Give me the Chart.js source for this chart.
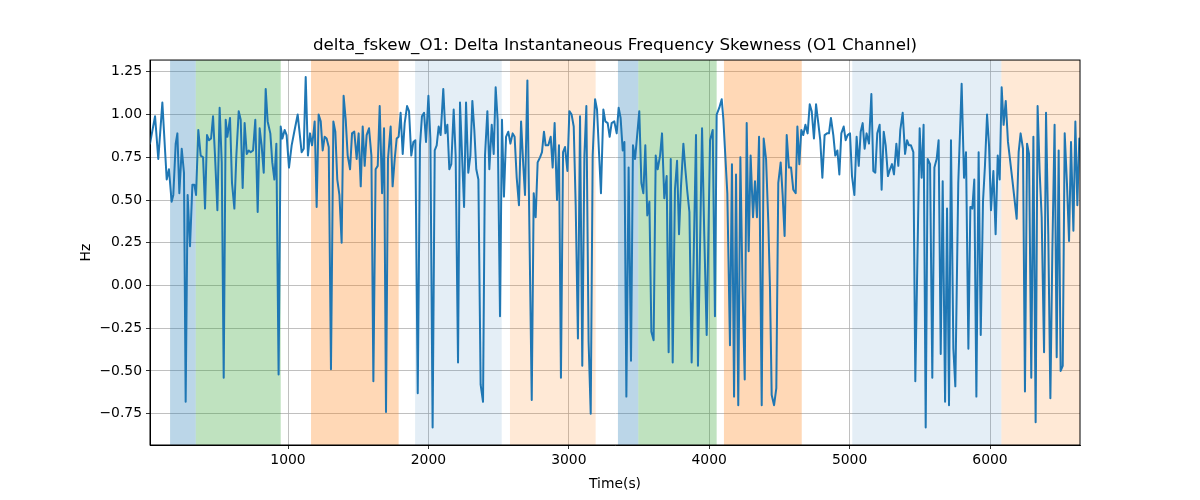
<!DOCTYPE html>
<html>
<head>
<meta charset="utf-8">
<script src="https://cdn.jsdelivr.net/npm/chart.js@4/dist/chart.umd.min.js"></script>
<style>
html, body { margin: 0; padding: 0; background: #fff; }
</style>
</head>
<body>
<canvas id="fskewChart" width="1200" height="500"></canvas>
<script>
// sample times (s) and skewness values (Hz)
const times = [
  17, 53, 76, 105, 136, 152, 171, 183, 200, 212, 226, 243, 259, 271, 285, 302, 319, 333, 345, 361,
  378, 395, 409, 423, 437, 452, 466, 480, 497, 513, 528, 542, 556, 568, 587, 601, 618, 632, 649, 663,
  677, 691, 706, 720, 734, 751, 767, 784, 798, 812, 827, 841, 855, 874, 888, 903, 917, 933, 948, 960,
  976, 990, 1007, 1026, 1047, 1069, 1097, 1112,
  1126, 1142, 1157, 1171, 1180, 1190, 1204, 1218, 1233, 1247, 1261, 1275, 1290, 1306, 1323, 1337, 1351, 1366, 1382, 1396,
  1411, 1425, 1442, 1456, 1472, 1489, 1503, 1518, 1532, 1546, 1560, 1577, 1594, 1608, 1624, 1639, 1653, 1670, 1684, 1698,
  1712, 1731, 1745, 1760, 1774, 1788, 1802, 1817, 1831, 1848, 1862, 1878, 1893, 1907, 1924, 1940, 1954, 1969, 1983, 2000,
  2014, 2030, 2045, 2059, 2073, 2087, 2106, 2121, 2135, 2149, 2163, 2180, 2194, 2211, 2225,
  2254, 2268, 2284, 2299, 2313, 2327, 2341, 2356, 2372, 2389, 2403, 2420, 2434, 2451, 2465, 2479, 2493, 2510, 2524, 2538,
  2553, 2569, 2584, 2600, 2614, 2629, 2645, 2660, 2676, 2688, 2705, 2736, 2750, 2764, 2778, 2795, 2809, 2823, 2835, 2854,
  2871, 2885, 2899, 2916, 2930, 2944, 2959, 2973, 2990, 3004, 3020, 3035, 3049, 3065, 3080, 3096, 3111, 3125, 3141, 3156,
  3170, 3187, 3201, 3215, 3229, 3246, 3260, 3277, 3291, 3305, 3324,
  3341, 3355, 3369, 3384, 3396, 3410, 3426, 3443, 3457, 3472, 3488, 3502, 3517, 3531, 3545, 3559, 3574, 3588, 3604, 3619,
  3633, 3650, 3664, 3680, 3697, 3711, 3726, 3740, 3756, 3771, 3785, 3799, 3816, 3830, 3844, 3859, 3875, 3906, 3920, 3949,
  3965, 3982, 4006, 4025, 4041, 4053, 4072, 4089, 4101, 4129, 4148, 4162, 4177, 4191, 4207, 4222, 4238, 4253, 4267, 4281,
  4295, 4312, 4326, 4340, 4355, 4374, 4388, 4405, 4421, 4433,
  4445, 4462, 4478, 4492, 4509, 4523, 4537, 4552, 4568, 4583, 4599, 4616, 4628, 4642, 4656, 4670, 4685, 4701, 4716, 4730,
  4746, 4761, 4777, 4791, 4806, 4822, 4839, 4853, 4867, 4884, 4898, 4913, 4927, 4941, 4958, 4972, 4986, 5003, 5017, 5034,
  5050, 5065, 5079, 5093, 5107, 5121, 5138, 5155, 5169, 5183, 5197, 5214, 5228, 5243, 5257, 5273, 5288, 5302, 5316, 5333,
  5347, 5361, 5378, 5395, 5409, 5423, 5437, 5454, 5468, 5499, 5513, 5527,
  5542, 5556, 5573, 5589, 5604, 5620, 5634, 5649, 5663, 5680, 5694, 5708, 5722, 5739, 5753, 5774, 5798, 5815, 5829, 5846,
  5860, 5874, 5888, 5903, 5919, 5934, 5950, 5964, 5979, 5993, 6007, 6024, 6040, 6055, 6069, 6083, 6097, 6112, 6128, 6159,
  6190, 6204, 6218, 6235, 6249, 6264, 6278, 6294, 6309, 6325, 6339, 6354, 6368, 6385, 6399, 6415, 6430, 6444, 6460, 6475,
  6489, 6503, 6518, 6532, 6548, 6563, 6577, 6594, 6608, 6622, 6636
];
const values = [
  0.83, 0.99, 0.74, 1.07, 0.62, 0.68, 0.49, 0.53, 0.83, 0.89, 0.54, 0.80, 0.66, -0.68, 0.53, 0.23, 0.59, 0.59, 0.53, 0.91,
  0.76, 0.75, 0.45, 0.88, 0.85, 0.86, 0.99, 0.76, 0.44, 1.04, 0.72, -0.54, 0.97, 0.87, 0.98, 0.60, 0.45, 0.76, 1.02, 0.97,
  0.57, 0.95, 0.77, 0.79, 0.78, 0.79, 0.97, 0.43, 0.92, 0.82, 0.66, 1.15, 0.96, 0.89, 0.72, 0.62, 0.83, -0.52, 0.93, 0.86,
  0.91, 0.88, 0.69, 0.82, 0.91, 1.00, 0.78, 0.80,
  1.22, 0.76, 0.89, 0.82, 0.88, 0.96, 0.46, 1.00, 0.96, 0.79, 0.87, 0.86, 0.81, -0.49, 0.96, 0.90, 0.62, 0.53, 0.25, 1.11,
  0.97, 0.76, 0.68, 0.89, 0.90, 0.74, 0.89, 0.58, 0.93, 0.70, 0.88, 0.92, 0.76, -0.56, 0.68, 0.70, 1.05, 0.54, 0.92, -0.74,
  0.74, 0.93, 0.58, 0.74, 0.86, 0.87, 1.01, 0.77, 0.95, 1.05, 1.02, 0.76, 0.84, 0.85, -0.63, 0.82, 0.99, 1.01, 0.84, 1.11,
  0.86, -0.83, 0.79, 0.82, 0.93, 0.88, 1.15, 0.89, 0.94, 0.68, 0.71, 1.03, 0.76, -0.45, 1.07,
  0.46, 1.07, 0.66, 0.76, 1.08, 0.91, 0.68, 0.62, -0.58, -0.68, 0.76, 1.02, 0.68, 0.94, 0.77, 1.16, 0.97, -0.18, 0.97, 0.52,
  0.87, 0.90, 0.83, 0.89, 0.87, 0.63, 0.47, 0.96, 0.70, 0.53, 1.20, -0.67, 0.54, 0.40, 0.72, 0.75, 0.78, 0.90, 0.82, 0.82,
  0.87, 0.69, 0.95, 0.50, 0.82, -0.54, 0.78, 0.81, 0.67, 1.02, 1.00, 0.93, 0.47, -0.31, 0.99, -0.47, 0.76, 1.05, -0.33, -0.75,
  0.76, 1.09, 1.03, 0.78, 0.54, 1.03, 0.96, 0.95, 0.87, 0.95, 0.96,
  0.89, 1.04, 0.98, 0.79, 0.84, -0.65, 0.69, -0.44, 0.82, 0.74, 0.89, 1.02, 0.60, 0.54, 0.82, 0.41, 0.49, -0.27, -0.32, 0.76,
  0.68, 0.76, 0.89, 0.51, 0.64, -0.39, 0.74, -0.45, 0.56, 0.73, 0.30, 0.58, 0.83, 0.68, 0.55, 0.43, -0.45, 0.88, -0.47, 0.92,
  0.29, -0.29, 0.85, 0.91, -0.18, 1.00, 1.04, 1.09, 0.97, 0.54, -0.35, 0.71, -0.65, 0.65, -0.70, 0.75, -0.04, -0.55, 0.95, 0.20,
  0.76, 0.40, 0.61, 0.40, 0.87, -0.70, 0.86, 0.74, 0.37, -0.02,
  -0.64, -0.70, -0.60, 0.60, 0.72, 0.53, 0.29, 0.88, 0.69, 0.69, 0.56, 0.54, 0.93, 0.71, 0.91, 0.88, 0.94, 0.89, 1.06, 1.02,
  0.86, 1.06, 0.95, 0.85, 0.63, 0.88, 0.89, 0.89, 0.98, 0.88, 0.76, 0.79, 0.65, 0.89, 0.93, 0.85, 0.88, 0.89, 0.64, 0.53,
  0.87, 0.70, 0.90, 0.95, 0.80, 0.89, 0.83, 1.12, 0.67, 0.66, 0.89, 0.94, 0.56, 0.90, 0.82, 0.64, 0.68, 0.71, 0.65, 0.83,
  0.70, 0.91, 1.01, 0.77, 0.85, 0.82, 0.82, 0.78, -0.56, 0.92, 0.63, 0.94,
  -0.83, 0.74, 0.71, -0.54, 0.69, 0.74, 0.85, -0.40, 0.61, -0.68, 0.45, -0.70, 0.85, -0.37, -0.59, 0.60, 1.18, 0.63, 0.78, -0.37,
  0.46, 0.45, 0.62, -0.65, 0.78, -0.29, 0.49, 0.70, 1.00, 0.82, 0.44, 0.67, 0.30, 0.76, 0.62, 1.16, 0.94, 1.08, 0.84, 0.62,
  0.39, 0.78, 0.89, 0.80, -0.62, 0.83, 0.77, -0.54, 0.87, -0.80, 1.05, 0.66, 0.40, -0.39, 1.01, 0.30, -0.66, 0.20, 0.94, -0.42,
  0.79, -0.50, -0.47, 0.89, 0.60, 0.26, 0.84, 0.32, 0.96, 0.47, 0.86
];

// shaded intervals
const spanStart = [160, 343, 1164, 1905, 2581, 3350, 3495, 4105, 5019, 6081];
const spanEnd   = [343, 948, 1788, 2522, 3191, 3495, 4053, 4659, 6081, 6700];
const spanKind  = ['blue', 'green', 'orange', 'paleBlue', 'paleOrange', 'blue', 'green', 'orange', 'paleBlue', 'paleOrange'];

const xTicks = [1000, 2000, 3000, 4000, 5000, 6000];
const yTicks = [-0.75, -0.5, -0.25, 0, 0.25, 0.5, 0.75, 1, 1.25];

const spanFill = {
    blue: 'rgba(31, 119, 180, 0.3)',
    green: 'rgba(44, 160, 44, 0.3)',
    orange: 'rgba(255, 127, 14, 0.3)',
    paleBlue: 'rgba(31, 119, 180, 0.12)',
    paleOrange: 'rgba(255, 127, 14, 0.17)'
};

const font = 'DejaVu Sans';
const tickFont = { family: font, size: 13.9 };

const spansPlugin = {
    id: 'spans',
    beforeDatasetsDraw(chart) {
        const { ctx, chartArea, scales } = chart;
        ctx.save();
        ctx.beginPath();
        ctx.rect(chartArea.left, chartArea.top, chartArea.width, chartArea.height);
        ctx.clip();
        spanStart.forEach((s, i) => {
            const x0 = scales.x.getPixelForValue(s);
            const x1 = scales.x.getPixelForValue(spanEnd[i]);
            ctx.fillStyle = spanFill[spanKind[i]];
            ctx.fillRect(x0, chartArea.top, x1 - x0, chartArea.height);
        });
        ctx.restore();
    },
    afterDraw(chart) {
        // full box around the axes
        const { ctx, chartArea } = chart;
        ctx.save();
        ctx.strokeStyle = '#000';
        ctx.lineWidth = 1;
        ctx.strokeRect(chartArea.left, chartArea.top, chartArea.width, chartArea.height);
        ctx.restore();
    }
};

const ctx = document.getElementById('fskewChart').getContext('2d');
const fskewChart = new Chart(ctx, {
    type: 'line',
    data: {
        datasets: [{
            label: 'delta_fskew_O1',
            data: times.map((t, i) => ({ x: t, y: values[i] })),
            borderColor: '#1f77b4',
            borderWidth: 2,
            borderJoinStyle: 'round',
            borderCapStyle: 'round',
            pointRadius: 0,
            tension: 0,
            fill: false
        }]
    },
    options: {
        responsive: false,
        animation: false,
        devicePixelRatio: 1,
        layout: { padding: { left: 74, right: 120, top: 0, bottom: 7 } },
        plugins: {
            legend: { display: false },
            tooltip: { enabled: false },
            title: {
                display: true,
                fullSize: false,
                text: 'delta_fskew_O1: Delta Instantaneous Frequency Skewness (O1 Channel)',
                color: '#000',
                font: { family: font, size: 16.7, weight: 'normal' },
                padding: { top: 36, bottom: 4 }
            }
        },
        scales: {
            x: {
                type: 'linear',
                min: 17,
                max: 6641,
                afterBuildTicks: s => { s.ticks = xTicks.map(v => ({ value: v })); },
                afterFit: s => { s.height = 48; },
                ticks: { font: tickFont, color: '#000', maxRotation: 0, autoSkip: false, padding: 3, callback: v => String(v) },
                grid: { color: '#b0b0b0', lineWidth: 0.8, tickLength: 4, tickColor: '#000' },
                border: { color: '#000', width: 1 },
                title: { display: true, text: 'Time(s)', color: '#000', font: tickFont, padding: { top: 2, bottom: 0 } }
            },
            y: {
                min: -0.933,
                max: 1.319,
                afterBuildTicks: s => { s.ticks = yTicks.map(v => ({ value: v })); },
                afterFit: s => { s.width = 76; },
                ticks: {
                    font: tickFont,
                    color: '#000',
                    padding: 4,
                    callback: v => (v < 0 ? '\u2212' : '') + Math.abs(v).toFixed(2)
                },
                grid: { color: '#b0b0b0', lineWidth: 0.8, tickLength: 4, tickColor: '#000' },
                border: { color: '#000', width: 1 },
                title: { display: true, text: 'Hz', color: '#000', font: tickFont, padding: 4 }
            }
        }
    },
    plugins: [spansPlugin]
});
</script>
</body>
</html>
